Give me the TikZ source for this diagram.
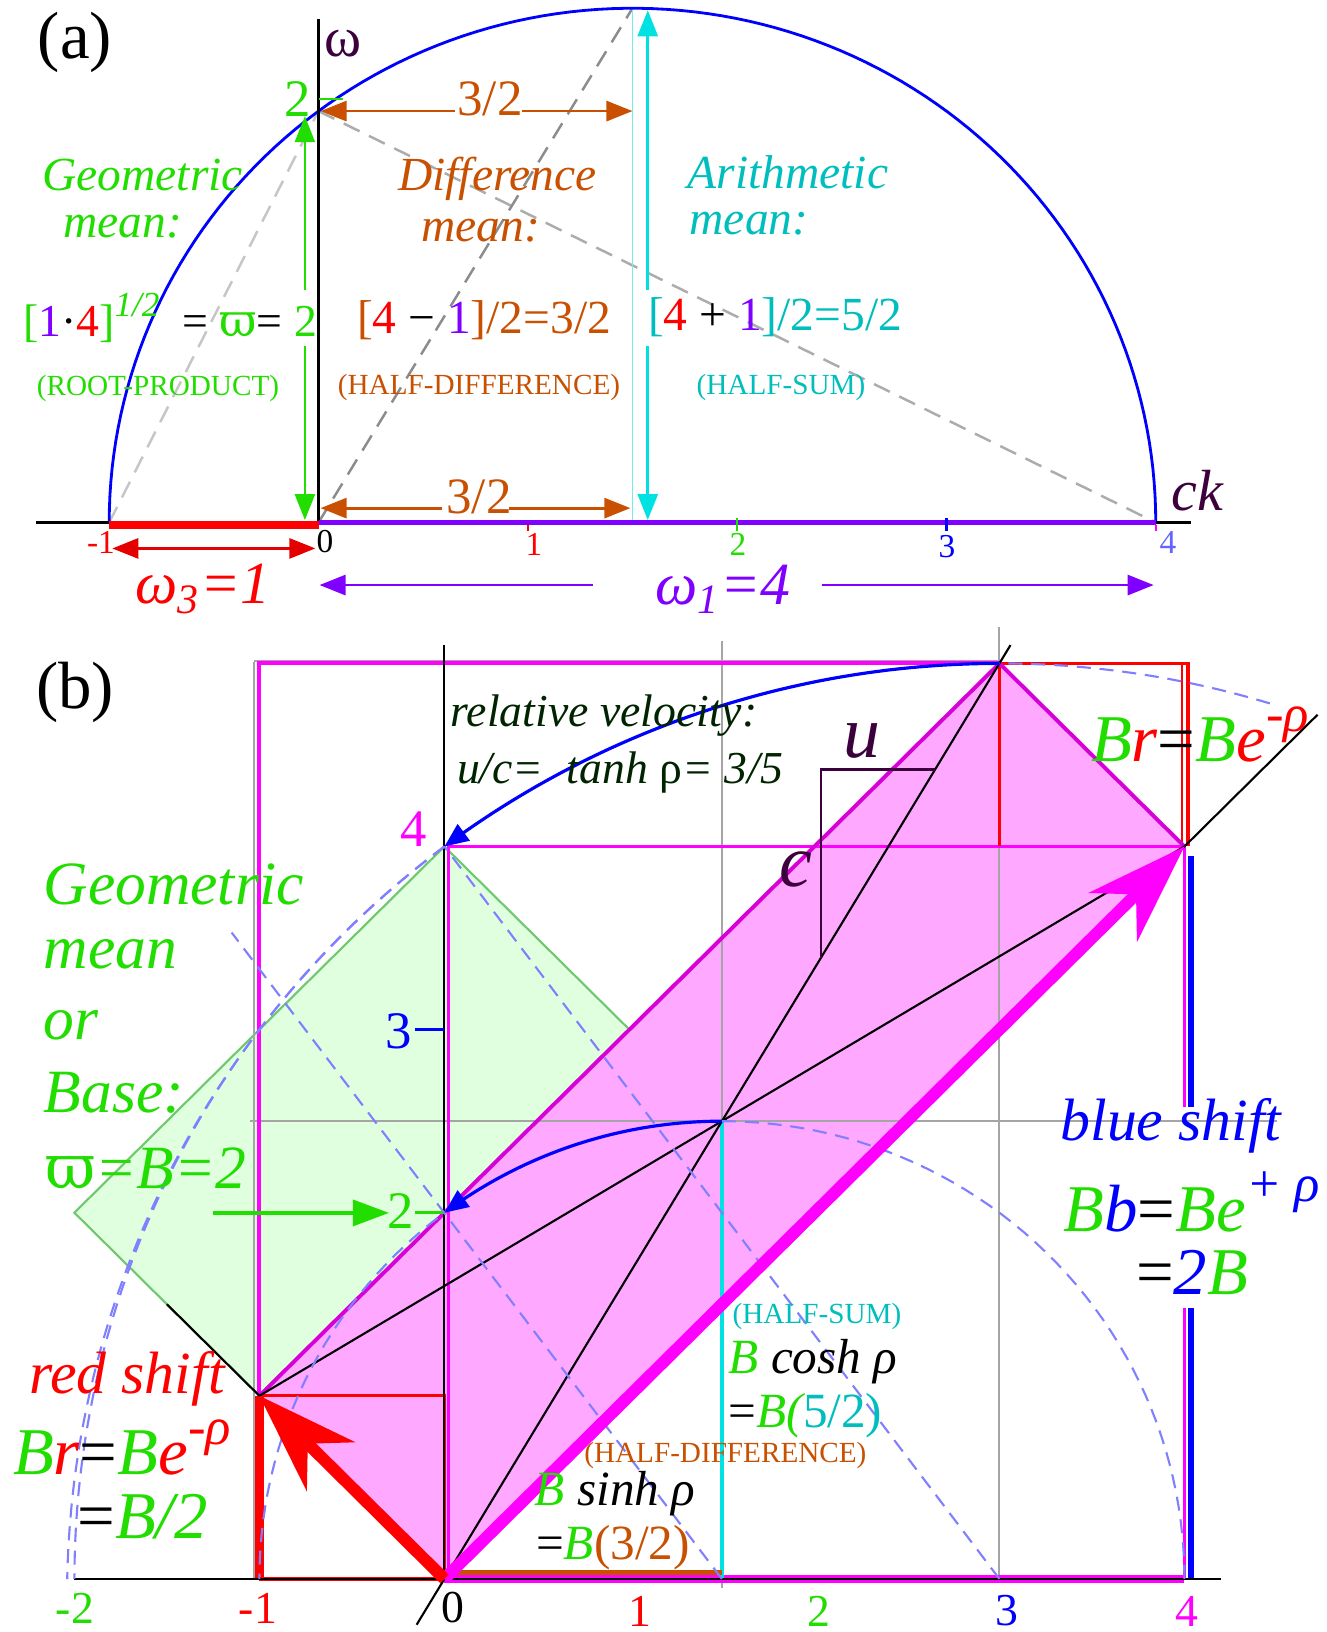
\documentclass[tikz,border=0pt]{standalone}
\usepackage{fontspec}
\setmainfont{Liberation Serif}
\newfontfamily\dvs{DejaVu Serif}
\usetikzlibrary{arrows.meta}
\newcommand{\myfs}[1]{\fontsize{#1}{#1}\selectfont}
\definecolor{cGr}{RGB}{34,221,0}
\definecolor{cRd}{RGB}{255,0,0}
\definecolor{cOr}{RGB}{200,80,0}
\definecolor{cCyt}{RGB}{0,190,190}
\definecolor{cCyl}{RGB}{0,225,225}
\definecolor{cPur}{RGB}{128,0,255}
\definecolor{cBl}{RGB}{0,0,255}
\definecolor{cMag}{RGB}{255,0,255}
\definecolor{cDmag}{RGB}{215,0,215}
\definecolor{cPink}{RGB}{255,168,255}
\definecolor{cGf}{RGB}{224,255,222}
\definecolor{cGe}{RGB}{110,200,110}
\definecolor{cLb}{RGB}{128,128,255}
\definecolor{cGry}{RGB}{165,165,165}
\definecolor{cDp}{RGB}{60,0,60}
\definecolor{cDg}{RGB}{0,35,0}
\definecolor{cVi}{RGB}{100,100,255}
\tikzset{
  txt/.style={inner sep=0pt, outer sep=0pt},
  tria/.style={-{Triangle[length=0.26cm,width=0.2cm]}},
  dtria/.style={{Triangle[length=0.26cm,width=0.2cm]}-{Triangle[length=0.26cm,width=0.2cm]}},
  gdash/.style={dash pattern=on 5pt off 3pt, line width=0.7pt},
  bdash/.style={cLb, dash pattern=on 4pt off 2.5pt, line width=0.6pt},
  gridln/.style={cGry, line width=0.6pt},
  bigtip/.style={-{Stealth[length=1.0cm,width=0.68cm,inset=0.32cm]}},
}
\begin{document}
\begin{tikzpicture}[x=0.01cm,y=-0.01cm]
\useasboundingbox (0,0) rectangle (1327,1632);
\fill[white] (0,0) rectangle (1327,1632);

% ================= (a) =================
\begin{scope}[shift={(318.5,522.5)}, x={(2.092cm,0cm)}, y={(0cm,2.056cm)}]
 \draw[gdash, gray!45] (-1,0) -- (0,2);
 \draw[gdash, gray!65] (0,2) -- (4,0);
 \draw[gdash, gray!90] (0,0) -- (1.5,2.5);
 \draw[cCyl!55, line width=0.5pt] (1.5,0) -- (1.5,2.5);
 \draw[cBl, line width=0.8pt] plot[domain=0:180, samples=120] ({1.5+2.5*cos(\x)},{2.5*sin(\x)});
 \draw[black, line width=0.7pt] (-1.35,0) -- (4.17,0);
 \draw[black, line width=0.7pt] (0,0) -- (0,2.45);
 \draw[cRd, line width=2.4pt] (-1,-0.012) -- (0,-0.012);
 \draw[cPur, line width=1.5pt] (0,0) -- (4,0);
 % ticks
 \draw[cRd, line width=0.6pt] (1,-0.01) -- (1,-0.04);
 \draw[cGr, line width=0.6pt] (2,0.02) -- (2,-0.04);
 \draw[cBl, line width=0.6pt] (3,0.02) -- (3,-0.04);
 \draw[cMag, line width=0.6pt] (4,-0.01) -- (4,-0.04);
 % green double arrow
 \draw[cGr, line width=0.7pt, tria] (-0.065,1.131) -- (-0.065,1.975);
 \draw[cGr, line width=0.7pt, tria] (-0.065,0.858) -- (-0.065,0.012);
 % cyan double arrow
 \draw[cCyl, line width=0.8pt, tria] (1.573,1.131) -- (1.573,2.49);
 \draw[cCyl, line width=0.8pt, tria] (1.573,0.858) -- (1.573,0.012);
 % orange arrows
 \draw[cOr, line width=0.8pt, tria] (0.65,2) -- (0.01,2);
 \draw[cOr, line width=0.8pt, tria] (0.973,2) -- (1.5,2);
 \draw[cOr, line width=0.8pt, tria] (0.59,0.07) -- (0.01,0.07);
 \draw[cOr, line width=0.8pt, tria] (0.91,0.07) -- (1.49,0.07);
 % red arrow
 \draw[cRd!90!black, line width=0.8pt, dtria] (-0.985,-0.126) -- (-0.015,-0.126);
 % purple arrow
 \draw[cPur, line width=0.8pt, tria] (1.312,-0.304) -- (0.005,-0.304);
 \draw[cPur, line width=0.8pt, tria] (2.407,-0.304) -- (3.99,-0.304);
\end{scope}
\draw[cGr, line width=0.8pt] (318.5,99) -- (343,99);

\node[txt] (la) at (75,42) {\myfs{19}(a)};
\node[txt, text=cDp] (omA) at (343,44) {\myfs{16}ω};
\node[txt, text=cGr] (twoA) at (298,99) {\myfs{15}2};
\node[txt, text=cOr] (hdA) at (490,99) {\myfs{14.5}3/2};
\node[txt, text=cOr] (hdB) at (479,497) {\myfs{14.5}3/2};
\node[txt, text=cGr] (geoA) at (142.6,175) {\myfs{13.5}\itshape Geometric};
\node[txt, text=cGr] (geoB) at (122.8,227) {\myfs{13.5}\itshape mean:};
\node[txt, text=cOr] (difA) at (497.5,179) {\myfs{13.5}\itshape Difference};
\node[txt, text=cOr] (difB) at (480.8,231) {\myfs{13.5}\itshape mean:};
\node[txt, text=cCyt] (ariA) at (788,172) {\myfs{13.5}\itshape Arithmetic};
\node[txt, text=cCyt] (ariB) at (749,224) {\myfs{13.5}\itshape mean:};
\node[txt] (gmF) at (170,318) {\myfs{13}{\color{cGr}[}{\color{cPur}1}{\color{black}·}{\color{cRd}4}{\color{cGr}]}\raisebox{0.45em}{\myfs{10}\color{cGr}\itshape 1/2}\ \ = {\color{cGr}\dvs ϖ}= {\color{cGr}2}};
\node[txt, text=cGr] (gmP) at (158,388) {\myfs{8.3}(ROOT-PRODUCT)};
\node[txt] (dmF) at (484,320) {\myfs{13.5}{\color{cOr}[}{\color{cRd}4} − {\color{cPur}1}{\color{cOr}]/2=3/2}};
\node[txt, text=cOr] (dmP) at (479,387) {\myfs{8.3}(HALF-DIFFERENCE)};
\node[txt] (amF) at (775,317) {\myfs{13.5}{\color{cCyt}[}{\color{cRd}4} + {\color{cPur}1}{\color{cCyt}]/2=5/2}};
\node[txt, text=cCyt] (amP) at (781,387) {\myfs{8.3}(HALF-SUM)};
\node[txt, text=cDp] (ck) at (1197,491) {\myfs{16.5}\itshape ck};
\node[txt, text=cRd] (tm1) at (101,542) {\myfs{9.5}-1};
\node[txt] (t0) at (325,542) {\myfs{9.5}0};
\node[txt, text=cRd] (t1) at (534,544) {\myfs{9.5}1};
\node[txt, text=cGr] (t2) at (738,544) {\myfs{9.5}2};
\node[txt, text=cBl] (t3) at (947,547) {\myfs{9.5}3};
\node[txt, text=cVi] (t4) at (1168,542) {\myfs{9.5}4};
\node[txt, text=cRd] (om3) at (203,589) {\myfs{17}\itshape ω\textsubscript{3}=1};
\node[txt, text=cPur] (om1) at (723,589) {\myfs{17}\itshape ω\textsubscript{1}=4};

% ================= (b) =================
\begin{scope}[shift={(444.4,1578.9)}, x={(1.849cm,0cm)}, y={(0cm,1.83cm)}]
 \filldraw[fill=cGf, draw=cGe, line width=0.6pt] (-2,2) -- (0,4) -- (2,2) -- (0,0) -- cycle;
 \fill[cPink] (0,0) -- (4,4) -- (3,5) -- (-1,1) -- cycle;
 % grid
 \draw[gridln] (-1.03,0) -- (-1.03,5.01);
 \draw[gridln] (-1.03,5.015) -- (3,5.015);
 \draw[gridln] (1.5,-0.05) -- (1.5,5.12);
 \draw[gridln] (3,0) -- (3,5.2);
 \draw[gridln] (-1.05,2.5) -- (4.5,2.5);
 % magenta frame lines
 \draw[cMag, line width=1.1pt] (-1,0) -- (-1,5) -- (3,5);
 \draw[cMag, line width=0.9pt] (0.02,0) -- (0.02,4) -- (4,4) -- (4,2.58);
 \draw[cMag, line width=0.9pt] (4,1.48) -- (4,0);
 \draw[cMag, line width=2.4pt] (0,0) -- (4,0);
 % red boxes
 \draw[cRd, line width=1pt] (3,4) -- (3,5) -- (4.02,5) -- (4.02,4);
 \draw[cRd, line width=0.5pt] (3.985,5) -- (3.985,4);
 \draw[cRd, line width=0.8pt] (-1,1) -- (0,1) -- (0,0);
 \draw[cRd, line width=1.2pt] (-1,0) -- (0,0);
 \draw[cRd, line width=2.6pt] (-1,1.0) -- (-1,0);
 % parallelogram edges
 \draw[cDmag, line width=1.1pt] (-1,1) -- (3,5) -- (4,4);
 % blue and cyan and orange
 \draw[cBl, line width=1.5pt] (4.035,0) -- (4.035,1.48);
 \draw[cBl, line width=1.5pt] (4.035,2.58) -- (4.035,3.95);
 \draw[cCyl, line width=1.2pt] (1.5,0) -- (1.5,2.5);
 \draw[cOr, line width=1.2pt] (0,0.035) -- (1.5,0.035);
 % black lines
 \draw[black, line width=0.6pt] (-2,0) -- (4.2,0);
 \draw[black, line width=0.6pt] (0,0) -- (0,5.1);
 \draw[black, line width=0.6pt] (-0.15,-0.25) -- (3.06,5.1);
 \draw[black, line width=0.6pt] (-1,1) -- (4,4);
 \draw[black, line width=0.6pt] (4,4) -- (4.72,4.72);
 \draw[black, line width=0.6pt] (-1,1) -- (-1.5,1.5);
 % ticks on axis
 \draw[cBl, line width=0.8pt] (-0.16,3) -- (0,3);
 \draw[cGr, line width=0.8pt] (-0.16,2) -- (0,2);
 % dashed circles / lines
 \draw[bdash] plot[domain=0:180, samples=100] ({1.5+2.5*cos(\x)},{2.5*sin(\x)});
 \draw[bdash] plot[domain=73:180, samples=100] ({3+5*cos(\x)},{5*sin(\x)});
 \draw[bdash] plot[domain=127.1:178.9, samples=60] ({3.1+5.14*cos(\x)},{-0.1+5.14*sin(\x)});
 \draw[bdash] (1.5,0) -- (-1.15,3.53);
 \draw[bdash] (3,0) -- (0,4);
 % blue arcs with arrows
 \draw[cBl, line width=0.9pt, -{Triangle[length=0.24cm,width=0.2cm]}] plot[domain=90:126.87, samples=60] ({3+5*cos(\x)},{5*sin(\x)});
 \draw[cBl, line width=0.9pt, -{Triangle[length=0.24cm,width=0.2cm]}] plot[domain=90:126.87, samples=60] ({1.5+2.5*cos(\x)},{2.5*sin(\x)});
 % big arrows
 \draw[cMag, line width=3.4pt, bigtip] (0,0) -- (4,4);
 \draw[cRd, line width=3.4pt, bigtip] (0,0) -- (-1,1);
 % u c triangle
 \draw[cDp, line width=0.7pt] (2.035,3.39) -- (2.035,4.42) -- (2.652,4.42);
\end{scope}
% green arrow (b)
\draw[cGr, line width=0.9pt, -{Triangle[length=0.36cm,width=0.26cm]}] (213.4,1212.9) -- (389,1212.9);

\node[txt] (lb) at (75,692) {\myfs{19}(b)};
\node[txt, text=cDg] (rv1) at (604,716) {\myfs{13}\itshape relative velocity:};
\node[txt, text=cDg] (rv2) at (620,772) {\myfs{13}\itshape u/c=\ \ tanh {\upshape ρ}= 3/5};
\node[txt, text=cDp] (uu) at (862,741) {\myfs{21}\itshape u};
\node[txt, text=cDp] (cc) at (796,869) {\myfs{21}\itshape c};
\node[txt] (brT) at (1200,734) {\myfs{19}\itshape{\color{cGr}B}{\color{cRd}r}{\upshape =}{\color{cGr}B}{\color{cRd}e}\raisebox{0.45em}{\myfs{15}\color{cRd}-ρ}};
\node[txt, text=cBl] (bs) at (1171,1126) {\myfs{17}\itshape blue shift};
\node[txt] (bb) at (1192,1202) {\myfs{19}\itshape{\color{cGr}B}{\color{cBl}b}{\upshape =}{\color{cGr}Be}\raisebox{0.45em}{\myfs{15}\color{cBl}+ ρ}};
\node[txt] (bb2) at (1192,1272) {\myfs{19}\itshape{\upshape =}{\color{cBl}2}{\color{cGr}B}};
\node[txt, text=cGr, anchor=west] (gm1) at (43.7,884.7) {\myfs{17.5}\itshape Geometric};
\node[txt, text=cGr, anchor=west] (gm2) at (43.7,954.4) {\myfs{17.5}\itshape mean};
\node[txt, text=cGr, anchor=west] (gm3) at (43.7,1025) {\myfs{17.5}\itshape or};
\node[txt, text=cGr, anchor=west] (gm4) at (43.7,1092.8) {\myfs{17.5}\itshape Base:};
\node[txt, text=cGr, anchor=west] (gm5) at (45,1167.8) {\myfs{17.5}{\dvs ϖ}\itshape =B=2};
\node[txt, text=cGr] (b2) at (400.7,1211) {\myfs{15}2};
\node[txt, text=cBl] (b3) at (398.6,1031) {\myfs{15}3};
\node[txt, text=cMag] (b4) at (414,829.5) {\myfs{15}4};
\node[txt, text=cRd] (rs) at (127,1379) {\myfs{17}\itshape red shift};
\node[txt] (brL) at (122,1447) {\myfs{19}\itshape{\color{cGr}B}{\color{cRd}r}{\upshape =}{\color{cGr}B}{\color{cRd}e}\raisebox{0.45em}{\myfs{15}\color{cRd}-ρ}};
\node[txt] (brL2) at (142.6,1516.4) {\myfs{19}\itshape{\upshape =}{\color{cGr}B/2}};
\node[txt, text=cCyt] (hs) at (817,1316.6) {\myfs{8.3}(HALF-SUM)};
\node[txt] (ch) at (813,1361.4) {\myfs{14}\itshape{\color{cGr}B} cosh ρ};
\node[txt] (ch2) at (805.6,1415.5) {\myfs{14}{\upshape =}{\color{cGr}\itshape B(}{\color{cCyt}5/2)}};
\node[txt, text=cOr] (hdf) at (725.4,1455) {\myfs{8.3}(HALF-DIFFERENCE)};
\node[txt] (sh) at (615,1493.5) {\myfs{14}\itshape{\color{cGr}B} sinh ρ};
\node[txt] (sh2) at (613,1547.7) {\myfs{14}{\upshape =}{\color{cGr}\itshape B}{\color{cOr}(3/2)}};
\node[txt, text=cGr] (bm2) at (75,1608) {\myfs{13}-2};
\node[txt, text=cRd] (bm1) at (258,1608) {\myfs{13}-1};
\node[txt] (b0) at (452.7,1608) {\myfs{13}0};
\node[txt, text=cRd] (bp1) at (640,1611) {\myfs{13}1};
\node[txt, text=cGr] (bp2) at (819,1611) {\myfs{13}2};
\node[txt, text=cBl] (bp3) at (1006.5,1611) {\myfs{13}3};
\node[txt, text=cMag] (bp4) at (1186.5,1611) {\myfs{13}4};
\end{tikzpicture}
\end{document}
